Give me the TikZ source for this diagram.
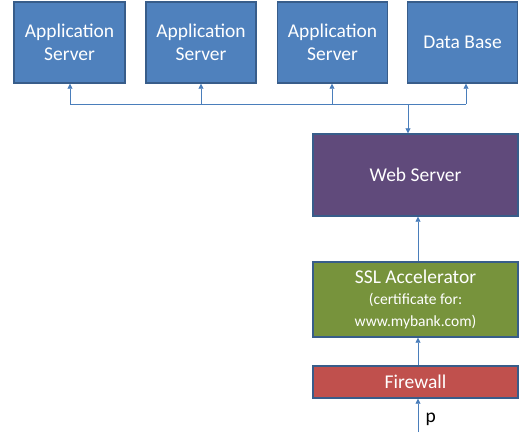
\documentclass[tikz,border=0pt]{standalone}
\usepackage{fontspec}
\setmainfont{Carlito}
\usetikzlibrary{arrows.meta}
\definecolor{outline}{HTML}{385D8A}
\definecolor{appblue}{HTML}{4F81BD}
\definecolor{webpurple}{HTML}{604A7B}
\definecolor{sslgreen}{HTML}{77933C}
\definecolor{fwred}{HTML}{C0504D}
\definecolor{wire}{HTML}{4A7EBB}
\tikzset{
  box/.style={draw=outline, line width=1.4pt, text=white, align=center,
    inner sep=0pt, font=\fontsize{19.5}{23.5}\selectfont},
  conn/.style={draw=wire, line width=0.8pt, -{Triangle[length=5pt,width=5pt]}},
  wireline/.style={draw=wire, line width=0.8pt}
}
\begin{document}
\begin{tikzpicture}[x=1pt,y=-1pt]
\useasboundingbox (0,0) rectangle (524,432);
% top row
\node[box, fill=appblue, minimum width=111pt, minimum height=81pt] (app1) at (69.5,42.5) {Application\\Server};
\node[box, fill=appblue, minimum width=110pt, minimum height=81pt] (app2) at (201,42.5) {Application\\Server};
\node[box, fill=appblue, minimum width=110pt, minimum height=81pt] (app3) at (332.5,42.5) {Application\\Server};
\node[box, fill=appblue, minimum width=110pt, minimum height=81pt] (db) at (462.5,42.5) {Data Base};
% chain
\node[box, fill=webpurple, minimum width=205pt, minimum height=82pt] (web) at (415.5,175) {Web Server};
\node[box, fill=sslgreen, minimum width=205pt, minimum height=75pt] (ssl) at (415.5,299.5)
  {SSL Accelerator\\[-3pt]{\fontsize{15.5}{19}\selectfont (certificate for:}\\[-1pt]{\fontsize{15.5}{19}\selectfont www.mybank.com)}};
\node[box, fill=fwred, minimum width=205pt, minimum height=32pt] (fw) at (415.5,382) {Firewall};
% bus
\coordinate (b1) at (70,104);
\coordinate (b2) at (201,104);
\coordinate (b3) at (332,104);
\coordinate (b4) at (466,104);
\coordinate (bj) at (408,104);
\draw[wireline] (b1) -- (b4);
\draw[conn] (b1) -- (b1 |- app1.south);
\draw[conn] (b2) -- (b2 |- app2.south);
\draw[conn] (b3) -- (b3 |- app3.south);
\draw[conn] (b4) -- (b4 |- db.south);
\draw[conn] (bj) -- (bj |- web.north);
% vertical chain
\coordinate (in) at (418,432);
\draw[conn] (ssl.north -| in) -- (web.south -| in);
\draw[conn] (fw.north -| in) -- (ssl.south -| in);
\draw[conn] (in) -- (fw.south -| in) node[pos=0.38, right=4pt, text=black, font=\fontsize{19.5}{23.5}\selectfont] (p) {p};
\end{tikzpicture}
\end{document}
